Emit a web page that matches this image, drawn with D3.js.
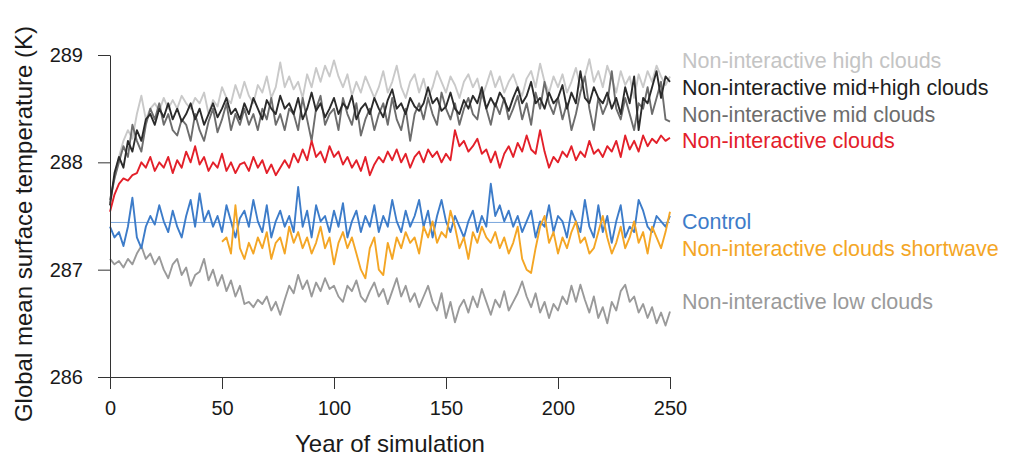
<!DOCTYPE html>
<html>
<head>
<meta charset="utf-8">
<script src="https://cdn.jsdelivr.net/npm/d3@7"></script>
<style>
  body { margin: 0; background: #fff; }
  svg text { font-family: "Liberation Sans", Arial, Helvetica, sans-serif; }
</style>
</head>
<body>
<div id="chart"></div>
<script>
// Years 0..250 sampled every 2 years
const years = d3.range(0, 251, 2);

const highClouds = [
  287.62, 287.85, 288.05, 288.2, 288.3, 288.22, 288.45, 288.62, 288.4, 288.5,
  288.55, 288.48, 288.6, 288.5, 288.58, 288.5, 288.62, 288.55, 288.5, 288.6,
  288.55, 288.65, 288.45, 288.58, 288.52, 288.7, 288.6, 288.55, 288.72, 288.6,
  288.75, 288.62, 288.55, 288.72, 288.65, 288.8, 288.6, 288.7, 288.93, 288.7,
  288.8, 288.68, 288.75, 288.6, 288.82, 288.7, 288.88, 288.75, 288.9, 288.8,
  288.95, 288.8, 288.7, 288.82, 288.62, 288.75, 288.65, 288.8, 288.7, 288.6,
  288.7, 288.85, 288.65, 288.75, 288.9, 288.7, 288.6, 288.75, 288.82, 288.65,
  288.78, 288.6, 288.7, 288.85, 288.75, 288.65, 288.8, 288.72, 288.6, 288.75,
  288.82, 288.7, 288.78, 288.6, 288.72, 288.85, 288.7, 288.8, 288.65, 288.75,
  288.82, 288.7, 288.62, 288.78, 288.85, 288.7, 288.92, 288.75, 288.65, 288.8,
  288.7, 288.82, 288.65, 288.75, 288.88, 288.7, 288.8, 288.96, 288.75, 288.85,
  288.7, 288.9, 288.78, 288.65, 288.85, 288.72, 288.8, 288.6, 288.82, 288.7,
  288.85, 288.75, 288.9, 288.8, 288.72, 288.8
];

const midHighClouds = [
  287.6, 287.9, 288.05, 287.95, 288.2, 288.1, 288.3, 288.2, 288.4, 288.45,
  288.35, 288.5, 288.42, 288.55, 288.4, 288.5, 288.38, 288.45, 288.55, 288.4,
  288.5, 288.35, 288.45, 288.55, 288.42, 288.5, 288.6, 288.45, 288.5, 288.4,
  288.55, 288.45, 288.6, 288.5, 288.4, 288.58, 288.5, 288.45, 288.62, 288.5,
  288.55, 288.45, 288.6, 288.4, 288.5, 288.65, 288.48, 288.55, 288.42, 288.5,
  288.6, 288.45, 288.55, 288.5, 288.62, 288.4, 288.5, 288.55, 288.45, 288.6,
  288.5, 288.42, 288.58, 288.68, 288.5, 288.55, 288.45, 288.6, 288.52, 288.48,
  288.55, 288.7, 288.55, 288.6, 288.48, 288.52, 288.65, 288.5, 288.45, 288.58,
  288.5, 288.62, 288.55, 288.7, 288.5, 288.6, 288.52, 288.65, 288.58, 288.48,
  288.6, 288.7, 288.55, 288.62, 288.75, 288.55, 288.6, 288.5, 288.65, 288.55,
  288.6, 288.72, 288.5, 288.65, 288.55, 288.85, 288.6, 288.55, 288.7, 288.6,
  288.55, 288.65, 288.5, 288.6, 288.45, 288.7, 288.55, 288.8, 288.3, 288.6,
  288.55, 288.7, 288.85, 288.6, 288.8, 288.75
];

const midClouds = [
  287.65, 287.85, 288.0, 288.15, 288.05, 288.35, 288.2, 288.1, 288.35, 288.5,
  288.4, 288.55, 288.35, 288.45, 288.3, 288.25, 288.4, 288.35, 288.2, 288.45,
  288.3, 288.2, 288.38, 288.5, 288.28, 288.4, 288.55, 288.3, 288.45, 288.35,
  288.5, 288.35, 288.45, 288.3, 288.5, 288.4, 288.6, 288.35, 288.45, 288.3,
  288.5, 288.45, 288.3, 288.6, 288.4, 288.2, 288.5, 288.62, 288.35, 288.45,
  288.5, 288.3, 288.6, 288.45, 288.35, 288.55, 288.25, 288.4, 288.5, 288.3,
  288.45, 288.55, 288.35, 288.6, 288.4, 288.3, 288.5, 288.2, 288.45, 288.55,
  288.4, 288.6, 288.45, 288.35, 288.65, 288.5, 288.4, 288.55, 288.35, 288.5,
  288.6, 288.45, 288.4, 288.65, 288.5, 288.35, 288.55, 288.45, 288.6, 288.4,
  288.5, 288.62, 288.4, 288.55, 288.35, 288.65, 288.5, 288.75, 288.55, 288.45,
  288.6, 288.4, 288.55, 288.3, 288.45, 288.65, 288.8, 288.5, 288.3, 288.6,
  288.45, 288.55, 288.85, 288.5, 288.4, 288.6, 288.45, 288.3, 288.55, 288.5,
  288.7, 288.45, 288.6, 288.75, 288.4, 288.38
];

const allClouds = [
  287.54, 287.7, 287.8, 287.85, 287.83, 287.88, 287.9, 288.0, 287.95, 288.05,
  287.92, 288.0, 287.95, 288.05, 287.9, 288.02, 287.95, 288.1, 288.0, 288.15,
  287.98, 288.05, 287.92, 288.0, 287.95, 288.08, 287.92, 288.0, 287.9, 287.98,
  288.0, 287.92, 288.05, 287.95, 288.02, 287.9, 287.98, 287.88, 287.95, 288.02,
  287.95, 288.08, 288.0, 288.12, 288.02, 288.2, 288.05, 288.1, 288.0, 288.15,
  288.05, 288.1, 287.98, 288.05, 287.95, 288.02, 287.92, 288.05, 287.88, 287.98,
  288.05, 288.0, 288.1, 288.02, 288.12, 288.0, 288.08, 287.95, 288.05, 288.1,
  288.0, 288.12, 288.05, 288.1, 288.0, 288.08, 288.02, 288.3, 288.15, 288.2,
  288.1, 288.15, 288.22, 288.08, 288.12, 288.0, 288.1, 287.95, 288.08, 288.15,
  288.05, 288.18, 288.1, 288.25, 288.12, 288.08, 288.3, 288.1, 287.95, 288.05,
  288.0, 288.1, 288.05, 288.15, 288.02, 288.1, 288.05, 288.2, 288.08, 288.12,
  288.05, 288.15, 288.1, 288.2, 288.05, 288.25, 288.12, 288.2, 288.1, 288.25,
  288.15, 288.22, 288.18, 288.25, 288.2, 288.23
];

const control = [
  287.4, 287.3, 287.35, 287.22, 287.4, 287.67, 287.3, 287.2, 287.4, 287.5,
  287.42, 287.6, 287.45, 287.35, 287.55, 287.4, 287.3, 287.5, 287.65, 287.4,
  287.71, 287.45, 287.55, 287.4, 287.5, 287.35, 287.6, 287.45, 287.3, 287.48,
  287.55, 287.4, 287.65, 287.45, 287.35, 287.6, 287.3, 287.45, 287.55, 287.4,
  287.5, 287.35, 287.77, 287.4, 287.55, 287.3, 287.6, 287.45, 287.5, 287.35,
  287.55, 287.4, 287.62, 287.3, 287.45, 287.55, 287.35, 287.5, 287.4, 287.6,
  287.35, 287.5, 287.4, 287.65, 287.45, 287.35, 287.55, 287.4, 287.5, 287.65,
  287.4, 287.55, 287.3, 287.5, 287.65, 287.45, 287.35, 287.5, 287.4, 287.3,
  287.45, 287.55, 287.35, 287.5, 287.4, 287.8, 287.5, 287.6, 287.45, 287.55,
  287.4, 287.5, 287.35, 287.45, 287.55, 287.3, 287.45, 287.4, 287.6, 287.35,
  287.5, 287.45, 287.3, 287.55, 287.45, 287.35, 287.65, 287.4, 287.3, 287.6,
  287.35, 287.5, 287.25, 287.45, 287.6, 287.3, 287.4, 287.35, 287.65, 287.55,
  287.4, 287.35, 287.5, 287.45, 287.4, 287.5
];
const controlMean = 287.44;

// starts at year 50
const shortwave = [
  null, null, null, null, null, null, null, null, null, null,
  null, null, null, null, null, null, null, null, null, null,
  null, null, null, null, null,
  287.26, 287.3, 287.15, 287.6, 287.2, 287.1, 287.25, 287.15, 287.3, 287.2,
  287.35, 287.1, 287.25, 287.3, 287.15, 287.4, 287.25, 287.35, 287.2, 287.3,
  287.15, 287.25, 287.4, 287.2, 287.3, 287.05, 287.25, 287.35, 287.2, 287.3,
  287.15, 287.0, 286.92, 287.2, 287.3, 287.0, 286.95, 287.25, 287.1, 287.3,
  287.2, 287.35, 287.25, 287.3, 287.15, 287.4, 287.3, 287.45, 287.25, 287.35,
  287.3, 287.55, 287.4, 287.2, 287.3, 287.1, 287.35, 287.25, 287.4, 287.3,
  287.25, 287.35, 287.2, 287.3, 287.15, 287.25, 287.4, 287.1, 287.0, 286.97,
  287.2, 287.4, 287.5, 287.25, 287.35, 287.15, 287.3, 287.2, 287.35, 287.45,
  287.25, 287.3, 287.15, 287.2, 287.35, 287.5, 287.3, 287.15, 287.25, 287.4,
  287.2, 287.3, 287.45, 287.25, 287.35, 287.15, 287.4, 287.3, 287.2, 287.35,
  287.54
];

const lowClouds = [
  287.1, 287.05, 287.08, 287.02, 287.1, 287.05, 287.15, 287.22, 287.1, 287.15,
  287.05, 287.12, 287.0, 286.92, 287.05, 287.1, 286.95, 287.02, 286.85, 286.95,
  286.98, 287.1, 286.9, 287.0, 286.85, 286.95, 286.8, 286.9, 286.75, 286.85,
  286.68, 286.7, 286.65, 286.72, 286.68, 286.75, 286.62, 286.7, 286.58, 286.72,
  286.85, 286.78, 286.95, 286.82, 286.9, 286.75, 286.88, 286.8, 286.92, 286.82,
  286.85, 286.75, 286.7, 286.85, 286.8, 286.9, 286.75, 286.7, 286.8, 286.88,
  286.75, 286.82, 286.68, 286.8, 286.92, 286.75, 286.85, 286.7, 286.78, 286.65,
  286.75, 286.85, 286.7, 286.62, 286.78, 286.55, 286.7, 286.51, 286.65, 286.72,
  286.6, 286.75, 286.65, 286.82, 286.7, 286.58, 286.72, 286.65, 286.8, 286.62,
  286.7, 286.78, 286.89, 286.75, 286.65, 286.78, 286.6, 286.7, 286.55, 286.68,
  286.62, 286.75, 286.68, 286.85, 286.7, 286.86, 286.72, 286.6, 286.75, 286.55,
  286.65, 286.5, 286.7, 286.62, 286.8, 286.86, 286.7, 286.75, 286.6, 286.68,
  286.55, 286.65, 286.5, 286.6, 286.48, 286.61
];

const xTicks = [0, 50, 100, 150, 200, 250];
const yTicks = [286, 287, 288, 289];

// draw order: back to front
const series = [
  { name: "Non-interactive low clouds", values: lowClouds, color: "#9a9a9a", labelY: 301.5 },
  { name: "Non-interactive high clouds", values: highClouds, color: "#c9c9c9", text: "#c4c4c4", labelY: 60 },
  { name: "Non-interactive mid clouds", values: midClouds, color: "#6d6d6d", labelY: 114 },
  { name: "Non-interactive mid+high clouds", values: midHighClouds, color: "#2b2b2b", text: "#1e1e1e", labelY: 87 },
  { name: "Non-interactive clouds", values: allClouds, color: "#e3202a", labelY: 140.5 },
  { name: "Control", values: control, color: "#3d7cc9", labelY: 221 },
  { name: "Non-interactive clouds shortwave", values: shortwave, color: "#f4a625", labelY: 248 }
];

const width = 1011, height = 460;
const margin = { top: 55, right: 341, bottom: 83, left: 110 };

const svg = d3.select("#chart").append("svg")
  .attr("width", width)
  .attr("height", height);

const x = d3.scaleLinear().domain([0, 250]).range([margin.left, width - margin.right]);
const y = d3.scaleLinear().domain([286, 289]).range([height - margin.bottom, margin.top]);

// control mean line
svg.append("line")
  .attr("x1", x(0)).attr("x2", x(250))
  .attr("y1", y(controlMean)).attr("y2", y(controlMean))
  .attr("stroke", "#7aa6dc")
  .attr("stroke-width", 1);

const line = d3.line()
  .defined(d => d[1] != null)
  .x(d => x(d[0]))
  .y(d => y(d[1]));

series.forEach(s => {
  svg.append("path")
    .datum(years.map((yr, i) => [yr, s.values[i]]))
    .attr("fill", "none")
    .attr("stroke", s.color)
    .attr("stroke-width", 1.9)
    .attr("stroke-linejoin", "round")
    .attr("d", line);

  svg.append("text")
    .attr("x", x(250) + 12)
    .attr("y", s.labelY)
    .attr("dy", "0.35em")
    .attr("fill", s.text || s.color)
    .style("font-size", "21.5px")
    .text(s.name);
});

// axes
const xAxis = svg.append("g")
  .attr("transform", `translate(0,${y(286)})`)
  .call(d3.axisBottom(x).tickValues(xTicks).tickFormat(d3.format("d"))
    .tickSize(12).tickSizeOuter(0).tickPadding(12));

const yAxis = svg.append("g")
  .attr("transform", `translate(${x(0)},0)`)
  .call(d3.axisLeft(y).tickValues(yTicks).tickFormat(d3.format("d"))
    .tickSize(12).tickSizeOuter(0).tickPadding(15));

[xAxis, yAxis].forEach(g => {
  g.select(".domain").attr("stroke", "#333");
  g.selectAll(".tick line").attr("stroke", "#333");
  g.selectAll(".tick text")
    .attr("fill", "#1a1a1a")
    .style("font-size", "20px")
    .style("font-family", "'Liberation Sans', Arial, sans-serif");
});

// axis titles
svg.append("text")
  .attr("x", x(125))
  .attr("y", 452)
  .attr("text-anchor", "middle")
  .attr("fill", "#1a1a1a")
  .style("font-size", "24px")
  .text("Year of simulation");

svg.append("text")
  .attr("transform", `translate(32,${224}) rotate(-90)`)
  .attr("text-anchor", "middle")
  .attr("fill", "#1a1a1a")
  .style("font-size", "24px")
  .text("Global mean surface temperature (K)");
</script>
</body>
</html>
